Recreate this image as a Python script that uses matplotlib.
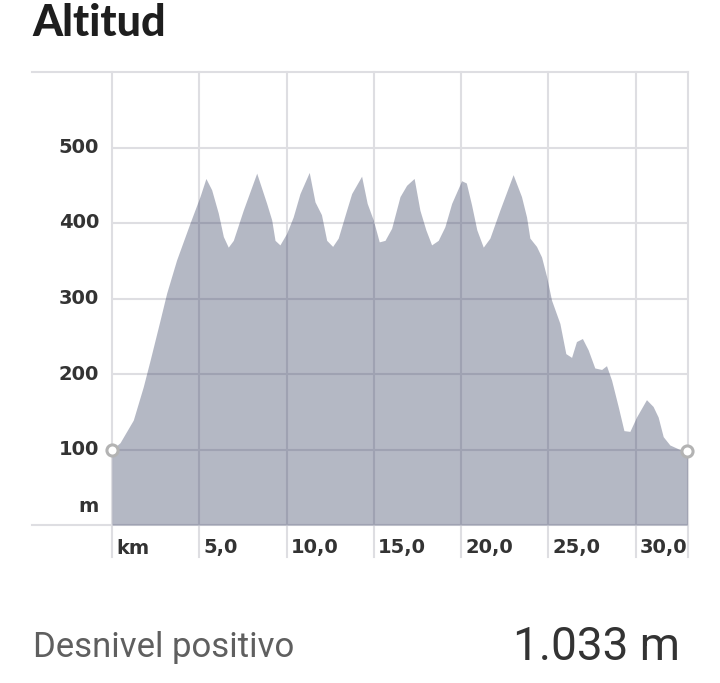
import matplotlib
matplotlib.use("Agg")
import matplotlib.pyplot as plt

# ── Elevation profile (km, m) ────────────────────────────────────────────────
km = [0, 0.46, 1.22, 1.79, 2.18, 2.75, 3.13, 3.70, 4.47, 5.04,
      5.38, 5.71, 6.09, 6.38, 6.66, 6.95, 7.52, 8.29, 8.86, 9.15,
      9.34, 9.62, 10.0, 10.38, 10.77, 11.3, 11.63, 12.0, 12.3, 12.64,
      12.96, 13.44, 13.73, 14.3, 14.62, 14.97, 15.31, 15.64, 16.02, 16.5,
      16.88, 17.31, 17.64, 17.98, 18.31, 18.69, 19.07, 19.46, 20.03, 20.3,
      20.6, 20.9, 21.27, 21.65, 22.22, 22.98, 23.46, 23.75, 23.94, 24.32,
      24.61, 24.9, 25.18, 25.66, 26.0, 26.33, 26.61, 26.95, 27.28, 27.66,
      28.05, 28.33, 28.62, 29.0, 29.33, 29.67, 30.05, 30.62, 31.0, 31.29,
      31.58, 31.96, 32.53, 32.97]
elev = [100, 109, 139, 183, 218, 271, 307, 351, 400, 435,
        459, 444, 413, 382, 368, 377, 417, 466, 426, 404,
        377, 371, 386, 408, 439, 467, 428, 411, 377, 369,
        380, 417, 439, 462, 426, 404, 375, 377, 393, 435,
        450, 459, 417, 391, 371, 377, 395, 426, 456, 453,
        424, 391, 368, 380, 417, 464, 435, 408, 380, 369,
        355, 329, 298, 267, 227, 222, 243, 247, 232, 208,
        206, 211, 192, 157, 125, 124, 143, 166, 157, 143,
        117, 106, 100, 98]

x_ticks = [0, 5, 10, 15, 20, 25, 30]
x_labels = ["km", "5,0", "10,0", "15,0", "20,0", "25,0", "30,0"]
y_ticks = [100, 200, 300, 400, 500]
y_labels = ["100", "200", "300", "400", "500"]

title = "Altitud"
stat_label = "Desnivel positivo"
stat_value = "1.033 m"

X_MAX, Y_MAX = 33.0, 600
GRID = "#dedee2"
FILL = "#313a5e"
TICK_TXT = "#333333"
TICK_FONT = "DejaVu Sans"

fig = plt.figure(figsize=(7.2, 6.83), dpi=100)
ax = fig.add_axes([112 / 720, 1 - 525 / 683, 576 / 720, 453 / 683])
ax.set_xlim(0, X_MAX)
ax.set_ylim(0, Y_MAX)
ax.axis("off")

# ── grid (drawn under the translucent fill) ──────────────────────────────────
ext_down = -32 / 453
for xv in x_ticks + [X_MAX]:
    ax.axvline(xv, ymin=ext_down, ymax=1, color=GRID, lw=1.5, clip_on=False, zorder=1)
for yv in y_ticks:
    ax.axhline(yv, color=GRID, lw=1.5, zorder=1)
ext_left = -80 / 576
for yv in [0, Y_MAX]:
    ax.axhline(yv, xmin=ext_left, xmax=1, color=GRID, lw=1.5, clip_on=False, zorder=1)

# ── profile ──────────────────────────────────────────────────────────────────
ax.fill_between(km, elev, 0, color=FILL, alpha=0.36, lw=0, zorder=2)
ax.plot([km[0], km[-1]], [elev[0], elev[-1]], "o", ms=8, mfc="white",
        mec="#b3b3b3", mew=2.2, clip_on=False, zorder=4)

# ── tick labels ──────────────────────────────────────────────────────────────
for xv, lab in zip(x_ticks, x_labels):
    ax.annotate(lab, (xv, 0), xytext=(4, -23), textcoords="offset pixels",
                ha="left", va="center", fontsize=14, fontweight="bold",
                color=TICK_TXT, family=TICK_FONT, annotation_clip=False)
for yv, lab in zip(y_ticks, y_labels):
    ax.annotate(lab, (0, yv), xytext=(-13, 0), textcoords="offset pixels",
                ha="right", va="center", fontsize=14, fontweight="bold",
                color=TICK_TXT, family=TICK_FONT, annotation_clip=False)
ax.annotate("m", (0, 0), xytext=(-13, 18), textcoords="offset pixels",
            ha="right", va="center", fontsize=14, fontweight="bold",
            color=TICK_TXT, family=TICK_FONT, annotation_clip=False)

# ── title and summary ────────────────────────────────────────────────────────
fig.text(32 / 720, 1 - 23 / 683, title, ha="left", va="center",
         fontsize=31, fontweight="black", color="#1e1e1e", family="Lato")
fig.text(33 / 720, 1 - 647 / 683, stat_label, ha="left", va="center",
         fontsize=25, color="#5f5f5f", family="Roboto")
fig.text(680 / 720, 1 - 647 / 683, stat_value, ha="right", va="center",
         fontsize=33, color="#333333", family="Roboto")

fig.savefig("out.png", dpi=100, facecolor="white")
